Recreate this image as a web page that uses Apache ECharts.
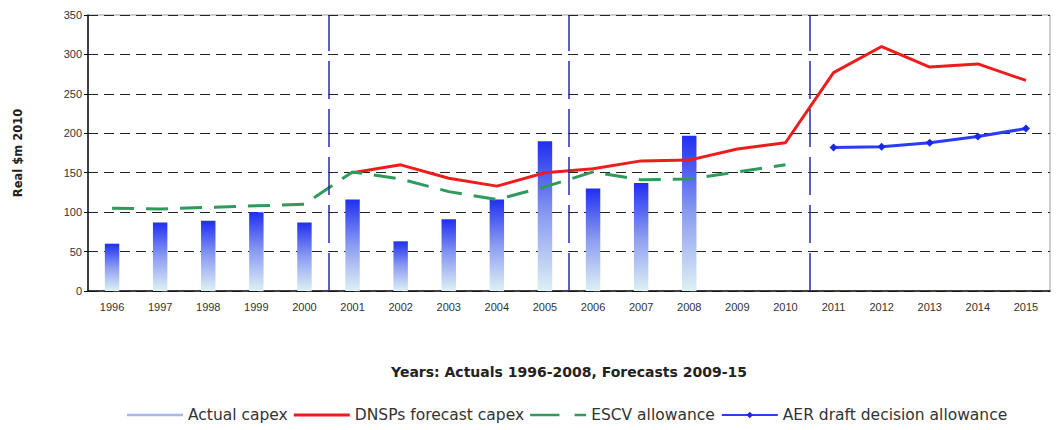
<!DOCTYPE html>
<html>
<head>
<meta charset="utf-8">
<script src="https://cdn.jsdelivr.net/npm/echarts@6/dist/echarts.min.js"></script>
<style>
  html, body { margin: 0; padding: 0; background: #fff; }
  #chart { width: 1057px; height: 430px; }
</style>
</head>
<body>
<div id="chart"></div>
<script>
var years = ['1996', '1997', '1998', '1999', '2000', '2001', '2002', '2003', '2004', '2005',
             '2006', '2007', '2008', '2009', '2010', '2011', '2012', '2013', '2014', '2015'];
var actualCapex = [60, 87, 89, 100, 87, 116, 63, 91, 116, 190, 130, 137, 197, null, null, null, null, null, null, null];
var dnspForecast = [null, null, null, null, null, 150, 160, 143, 133, 150, 155, 165, 166, 180, 188, 277, 310, 284, 288, 267];
var escvAllowance = [105, 104, 106, 108, 110, 151, 142, 126, 116, 132, 151, 141, 142, 151, 160, null, null, null, null, null];
var aerDraft = [null, null, null, null, null, null, null, null, null, null, null, null, null, null, null, 182, 183, 188, 196, 206];
var periodBreaks = [5, 10, 15];

(function() {
  var font = 'Liberation Sans, Arial, sans-serif';
  var wide = 'DejaVu Sans, sans-serif';
  var chart = echarts.init(document.getElementById('chart'), null, { renderer: 'svg' });
  chart.setOption({
    animation: false,
    textStyle: { fontFamily: font },
    grid: {
      left: 88, right: 7, top: 15, bottom: 139,
      show: true, borderColor: '#9a9a9a', borderWidth: 1
    },
    legend: {
      bottom: 2,
      left: 122,
      itemGap: 6,
      itemWidth: 56,
      itemHeight: 8,
      textStyle: { fontSize: 15.5, color: '#333', fontFamily: wide },
      data: [
        { name: 'Actual capex', icon: 'path://M0,0 H24 V1 H0 Z', itemStyle: { color: '#a9b6ee' } },
        { name: 'DNSPs forecast capex', icon: 'path://M0,0 H20 V1 H0 Z', itemStyle: { color: '#ee1c1c' } },
        { name: 'ESCV allowance', icon: 'path://M0,0 H33 V3 H0 Z M50,0 H63 V3 H50 Z', itemStyle: { color: '#2e9a5c' } },
        { name: 'AER draft decision allowance' }
      ]
    },
    xAxis: [{
      type: 'category',
      data: years,
      name: 'Years: Actuals 1996-2008, Forecasts 2009-15',
      nameLocation: 'middle',
      nameGap: 74,
      nameTextStyle: { fontWeight: 'bold', fontSize: 14, color: '#222', fontFamily: wide },
      axisLine: { lineStyle: { color: '#111', width: 1.5 } },
      axisTick: { show: false },
      axisLabel: { color: '#333', fontSize: 11, margin: 10 }
    }, {
      type: 'value', min: 0, max: 20, show: false
    }],
    yAxis: {
      type: 'value',
      min: 0, max: 350, interval: 50,
      name: 'Real $m 2010',
      nameLocation: 'middle',
      nameGap: 64,
      nameRotate: 90,
      nameTextStyle: { fontWeight: 'bold', fontSize: 11.5, color: '#222', fontFamily: wide },
      axisLine: { show: true, lineStyle: { color: '#111', width: 1.5 } },
      axisTick: { show: true, length: 4, lineStyle: { color: '#111' } },
      axisLabel: { color: '#333', fontSize: 11, margin: 6 },
      splitLine: { lineStyle: { color: '#222', type: [10, 6], width: 1.2 } }
    },
    series: [{
      name: 'Actual capex',
      type: 'bar',
      data: actualCapex,
      barWidth: '30%',
      itemStyle: {
        color: new echarts.graphic.LinearGradient(0, 0, 0, 1, [
          { offset: 0, color: '#1f2ff0' },
          { offset: 0.5, color: '#8b9cf2' },
          { offset: 1, color: '#def1f4' }
        ])
      }
    }, {
      name: 'DNSPs forecast capex',
      type: 'line',
      data: dnspForecast,
      symbol: 'none',
      lineStyle: { color: '#ee1c1c', width: 3 },
      itemStyle: { color: '#ee1c1c' }
    }, {
      name: 'ESCV allowance',
      type: 'line',
      data: escvAllowance,
      symbol: 'none',
      lineStyle: { color: '#2e9a5c', width: 3, type: [22, 12] },
      itemStyle: { color: '#2e9a5c' }
    }, {
      name: 'AER draft decision allowance',
      type: 'line',
      data: aerDraft,
      symbol: 'diamond',
      symbolSize: 8,
      lineStyle: { color: '#2a3cf5', width: 3 },
      itemStyle: { color: '#1a28e0' }
    }, {
      type: 'line',
      xAxisIndex: 1,
      data: [],
      silent: true,
      markLine: {
        symbol: 'none',
        label: { show: false },
        lineStyle: { color: '#2a2ab0', width: 1.5, type: [38, 10] },
        data: periodBreaks.map(function(v) { return { xAxis: v }; })
      }
    }]
  });
  window.addEventListener('resize', function() { chart.resize(); });
})();
</script>
</body>
</html>
